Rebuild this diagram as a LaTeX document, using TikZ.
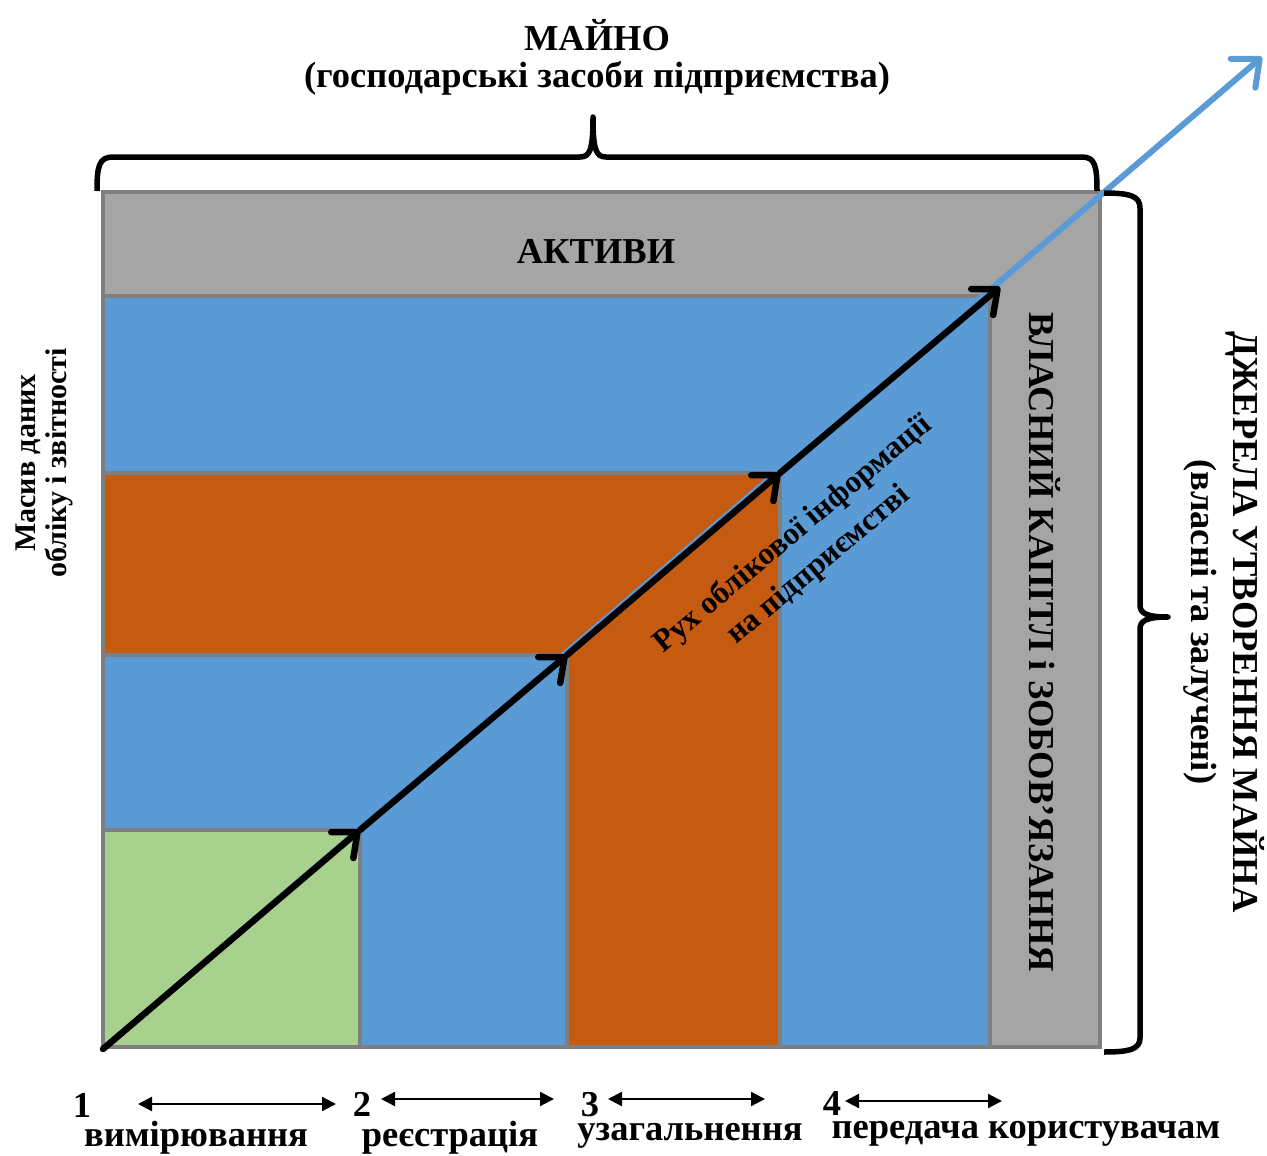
\documentclass[tikz,border=0pt]{standalone}
\usepackage{fontspec}
\setmainfont{Liberation Serif}
\usetikzlibrary{arrows.meta}
\definecolor{cblue}{HTML}{5B9BD5}
\definecolor{corange}{HTML}{C55A11}
\definecolor{cgreen}{HTML}{A9D18E}
\definecolor{cgray}{HTML}{A5A5A5}
\definecolor{cedge}{HTML}{7F7F7F}
\tikzset{
  block/.style={draw=cedge, line width=4pt},
  bigtxt/.style={font=\bfseries\fontsize{36.5}{40}\selectfont, inner sep=0pt},
  midtxt/.style={font=\bfseries\fontsize{31.5}{40}\selectfont, inner sep=0pt, align=center},
  smalltxt/.style={font=\bfseries\fontsize{30}{31}\selectfont, inner sep=0pt, align=center},
  flow/.style={line width=6.5pt, line cap=round, -{Straight Barb[length=20pt,width=34pt,line cap=round,line join=round]}},
  bluearrow/.style={cblue, line width=6pt, line cap=round, -{Straight Barb[length=22pt,width=38pt,line cap=round,line join=round]}},
  brace/.style={line width=5.5pt, line join=round},
  dbl/.style={line width=2.2pt, {Triangle[length=14pt,width=14pt]}-{Triangle[length=14pt,width=14pt]}}
}
\begin{document}
\begin{tikzpicture}[x=1pt,y=-1pt]
\useasboundingbox (0,0) rectangle (1267,1156);

% blocks
\draw[block, fill=cgray] (103,192) rectangle (1100,1047);
\draw[block, fill=cblue] (103,296) rectangle (990,1047);
\draw[block, fill=corange] (103,473) rectangle (780,1047);
\draw[block, fill=cblue] (103,655) rectangle (567,1047);
\draw[block, fill=cgreen] (103,830) rectangle (360,1047);

% flow coordinates
\coordinate (p0) at (103,1049);
\coordinate (p1) at (360,830);
\coordinate (p2) at (567,655);
\coordinate (p3) at (780,473);
\coordinate (p4) at (1000,287);
\coordinate (pend) at (1262,57);

\draw[bluearrow] (p0) -- (pend);
\draw[flow] (p0) -- (p1);
\draw[flow] (p1) -- (p2);
\draw[flow] (p2) -- (p3);
\draw[flow] (p3) -- (p4);

% texts
\node[bigtxt] (aktyvy) at (596,252) {АКТИВИ};
\node[bigtxt, rotate=-90] (vlasnyi) at (1045,642) {ВЛАСНИЙ КАПІТЛ і ЗОБОВ’ЯЗАННЯ};
\node[midtxt, rotate=40] (rukh) at (806,550) {Рух облікової інформації\\на підприємстві};

\node[bigtxt] (maino) at (597,35) {МАЙНО};
\node[bigtxt] (mainosub) at (597,78) {(господарські засоби підприємства)};

\node[bigtxt, rotate=-90] (dzherela) at (1245,622) {ДЖЕРЕЛА УТВОРЕННЯ МАЙНА};
\node[bigtxt, rotate=-90] (dzherelasub) at (1200,622) {(власні та залучені)};

\node[smalltxt, rotate=90] (masyv) at (44,463) {Масив даних\\обліку і звітності};

% braces
\draw[brace] (97,191) .. controls (97,166) and (99,157) .. (113,157) -- (580,157)
  .. controls (590,157) and (593,150) .. (593,117)
  .. controls (593,150) and (596,157) .. (606,157) -- (1082,157)
  .. controls (1095,157) and (1097,166) .. (1097,191);
\draw[brace] (1104,193) .. controls (1130,193) and (1140,196) .. (1140,208) -- (1140,605)
  .. controls (1140,613) and (1146,617) .. (1168,617)
  .. controls (1146,617) and (1140,621) .. (1140,629) -- (1140,1038)
  .. controls (1140,1049) and (1130,1052) .. (1104,1052);

% bottom stages
\node[bigtxt] (n1) at (82,1105) {1};
\node[bigtxt] (n2) at (362,1104) {2};
\node[bigtxt] (n3) at (590,1105) {3};
\node[bigtxt] (n4) at (832,1103) {4};
\coordinate (a1l) at (138,1104); \coordinate (a1r) at (336,1104);
\coordinate (a2l) at (381,1099); \coordinate (a2r) at (554,1099);
\coordinate (a3l) at (608,1099); \coordinate (a3r) at (765,1099);
\coordinate (a4l) at (845,1101); \coordinate (a4r) at (1002,1101);
\draw[dbl] (a1l) -- (a1r);
\draw[dbl] (a2l) -- (a2r);
\draw[dbl] (a3l) -- (a3r);
\draw[dbl] (a4l) -- (a4r);
\node[bigtxt] (l1) at (196,1138) {вимірювання};
\node[bigtxt] (l2) at (450,1138) {реєстрація};
\node[bigtxt] (l3) at (690,1136) {узагальнення};
\node[bigtxt] (l4) at (1026,1134) {передача користувачам};
\end{tikzpicture}
\end{document}
